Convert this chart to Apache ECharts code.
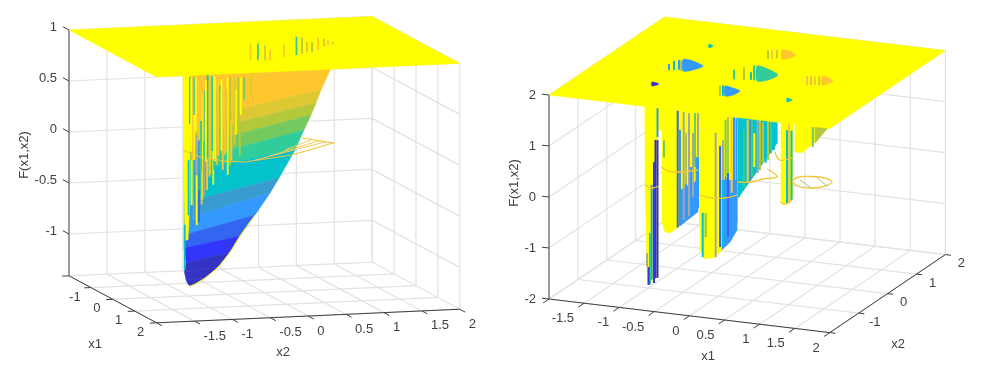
<!DOCTYPE html>
<html>
<head>
<meta charset="utf-8">
<style>
  html, body { margin: 0; background: #fff; }
  #chart { width: 992px; height: 366px; }
</style>
<script src="https://cdn.jsdelivr.net/npm/echarts@6/dist/echarts.min.js"></script>
</head>
<body>
<div id="chart"></div>
<script>
// colour levels of the surfaces, low to high; 11 is the clipped top, 12 the grey mixed streaks
const levelColors = ["#3333c4", "#3136fa", "#3366f0", "#3399ff", "#3a9bd0", "#04c2cc", "#30cc99",
  "#74c95f", "#b4c83c", "#dcc832", "#ffc72e", "#ffff00", "#a3a8a3"];

// left plot: axis ticks
const leftX1Ticks = [-1, 0, 1, 2];
const leftX2Ticks = [-1.5, -1, -0.5, 0, 0.5, 1, 1.5, 2];
const leftZTicks = [-1, -0.5, 0, 0.5, 1];
const leftZMin = -1.41;
const leftZMax = 1;

// left plot: colour bands of the surface, read along the slice x1 = 0
const leftRowX2L = [-1.06, -1.06, -1.06, -1.06, -1.06, -1.06, -1.06, -1.06, -1.06, -1.06, -1.034, -1.054, -1.034, -1.008, -0.982];
const leftRowFL = [0.8, 0.297, 0.16, 0.042, -0.095, -0.193, -0.497, -0.654, -0.811, -0.938, -1.086, -1.174, -1.252, -1.293, -1.313];
const leftRowX2R = [0.892, 0.747, 0.681, 0.615, 0.522, 0.404, 0.193, 0.074, -0.124, -0.322, -0.454, -0.612, -0.784, -0.916, -0.982];
const leftRowFR = [0.781, 0.551, 0.425, 0.31, 0.166, -0.026, -0.294, -0.437, -0.646, -0.845, -0.998, -1.14, -1.241, -1.296, -1.313];
const leftRowLevel = [10, 9, 8, 7, 6, 5, 4, 3, 2, 1, 0, 0, 0, 0];

// left plot: clipped wall beside the surface (same slice)
const leftWallX2 = [-1.074, -0.982, -0.982, -1.008, -1.047, -1.061];
const leftWallF = [0.807, 0.804, -0.47, -0.862, -0.86, -0.37];

// left plot: vertical streaks of the wall (x2, top, bottom, colour level)
const leftStreakX2 = [-0.982, -0.951, -0.925, -0.925, -0.88, -0.893, -0.85, -0.863, -0.819, -0.793, -0.748, -0.708, -0.674,
  -0.629, -0.586, -0.55, -0.52, -0.484, -0.454, -0.418, -0.375, -0.344, -0.309, -0.265, -0.234, -0.177,
  -1, -0.959, -0.925, -0.893, -0.863, -0.827, -0.793, -0.757, -0.714, -0.665, -1.051,
  -0.966, -0.906, -0.836, -0.806, -0.772, -0.727, -0.69, -0.65, -0.607, -0.567, -0.5, -0.435, -0.395, -0.325];
const leftStreakTop = [0.735, 0.73, 0.73, 0.36, 0.73, 0.16, 0.73, 0.11, 0.55, 0.6, 0.75, 0.73, 0.73,
  0.6, 0.64, 0.72, 0.72, 0.72, 0.72, 0.72, 0.59, 0.71, 0.71, 0.71, 0.71, 0.71,
  -0.08, -0.08, -0.08, -0.23, -0.38, -0.08, -0.08, -0.08, -0.09, -0.09, -0.71,
  0.73, 0.73, 0.3, 0.73, 0.7, 0.7, 0.73, 0.73, 0.6, 0.7, 0.6, 0.3, 0.72, 0.2];
const leftStreakBottom = [0.275, -0.08, 0.36, -0.67, 0.02, -0.23, -0.18, -0.38, -0.47, -0.38, -0.23, -0.09, -0.33,
  -0.14, -0.04, -0.19, -0.04, -0.24, -0.15, 0.25, 0.15, 0.19, 0.34, 0.49, 0.39, 0.53,
  -0.62, -0.52, -0.72, -0.72, -0.69, -0.52, -0.43, -0.38, -0.23, -0.19, -1.15,
  0, 0.2, -0.2, 0.1, -0.1, -0.25, 0, -0.1, -0.05, 0, 0, -0.1, 0.05, -0.05];
const leftStreakLevel = [5, 10, 6, 11, 10, 12, 10, 4, 11, 6, 5, 10, 11, 9, 6, 10, 10, 11, 8, 10, 11, 8, 11, 7, 10, 9,
  5, 11, 4, 11, 2, 9, 12, 10, 9, 6, 5,
  11, 11, 6, 10, 11, 9, 6, 11, 10, 11, 9, 10, 9, 8];

// left plot: gaps in the clipped plane, read along the slice x1 = -1
const leftGapX2 = [0.106, 0.204, 0.297, 0.363, 0.547, 0.712, 0.785, 0.851, 0.917, 0.996, 1.075, 1.128, 1.194];
const leftGapTop = [0.91, 0.91, 0.89, 0.84, 0.89, 0.96, 0.95, 0.9, 0.9, 0.94, 0.93, 0.91, 0.89];
const leftGapBottom = [0.75, 0.75, 0.74, 0.74, 0.76, 0.78, 0.79, 0.8, 0.8, 0.82, 0.85, 0.86, 0.87];
const leftGapLevel = [10, 6, 9, 10, 10, 6, 8, 9, 8, 10, 9, 10, 9];

// left plot: wire contour at F = -0.1
const leftWireX1 = [-0.986, -0.377, 0.026, 0.175, -0.211, -1.007, -1.509];
const leftWireX2 = [-0.789, -0.741, -0.528, -0.307, 0.421, 1.196, 0.932];
const leftHatchX1A = [0.053, -0.209, -0.627];
const leftHatchX2A = [-0.139, 0.134, 0.452];
const leftHatchX1B = [-1.114, -1.217, -1.32];
const leftHatchX2B = [1.121, 1.058, 0.995];
const wireLevel = -0.1;

// right plot: axis ticks
const rightX1Ticks = [-1.5, -1, -0.5, 0, 0.5, 1, 1.5, 2];
const rightX2Ticks = [-1, 0, 1, 2];
const rightZTicks = [-2, -1, 0, 1, 2];
const rightZMin = -2;
const rightZMax = 2;

// right plot: clipped walls, outlines read along the slice x2 = -1
const rightWallX1 = [
  [-1.044, -1.044, -1.016, -1.001, -0.873, -0.859],
  [-0.802, -0.802, -0.759, -0.688, -0.588, -0.289, -0.289],
  [-0.261, -0.261, -0.189, -0.047, 0.167, 0.266, 0.266],
  [0.894, 0.894, 0.922, 1.064, 1.064],
  [1.093, 1.093, 1.192, 1.335, 1.562, 1.562],
  [-1.044, 0.266, 0.266, -1.044]
];
const rightWallF = [
  [1.677, 0.05, -1.594, -1.943, -1.765, 1.707],
  [1.72, -0.69, -0.86, -0.87, -0.76, -0.39, 1.8],
  [1.77, -1.14, -1.3, -1.24, -0.91, -0.66, 1.89],
  [2, 0.04, -0.06, 0.1, 2.02],
  [2.03, 1.01, 1.01, 1.19, 1.56, 2.1],
  [1.68, 1.89, 1.3, 1.09]
];

// right plot: solid coloured patches on the walls (same slice)
const rightPatchX1 = [
  [0.281, 0.281, 0.837, 0.837],
  [-0.546, -0.289, -0.289, -0.546],
  [0.053, 0.266, 0.266, 0.167, 0.053],
  [1.378, 1.562, 1.378]
];
const rightPatchF = [
  [1.9, -0.03, 1.14, 1.99],
  [-0.01, 0.23, -0.39, -0.71],
  [0.29, 0.32, -0.66, -0.91, -1.08],
  [1.55, 1.56, 1.23]
];
const rightPatchLevel = [5, 3, 3, 8];

// right plot: vertical streaks on the walls (x1, top, bottom, colour level)
const rightStreakX1 = [-0.866, -0.895, -0.866, -0.916, -0.949, -0.973, -0.994, -1.015,
  -0.774, -0.578, -0.546, -0.493, -0.46, -0.46, -0.417, -0.389, -0.36, -0.332, -0.31, -0.289, -0.289,
  -0.222, -0.18, -0.037, 0.024, 0.067, 0.067, 0.105, 0.105, 0.138, 0.138, 0.191, 0.191, 0.224, 0.259,
  0.295, 0.333, 0.366, 0.419, 0.452, 0.48, 0.513, 0.561, 0.594, 0.637, 0.675, 0.708, 0.751, 0.793, 0.829,
  1.007, 0.979, 1.043, 1.346];
const rightStreakTop = [1.55, 0.92, 0.92, 0.48, 0.03, -0.92, -1.59, -1.32,
  0.93, 1.55, 1.17, 1.53, 0.14, 1.13, 1.52, 0.47, 1.14, 1.54, 0.68, 0.68, 1.56,
  -0.4, -0.4, 1.2, 0.95, 0.29, 1.07, 1.47, 0.36, 1.54, 0.44, 1.55, 0.06, 1.55, 1.55,
  1.54, 1.18, 1.32, 1.53, 1.53, 1.54, 1.28, 1.55, 1.55, 1.52, 1.57, 1.57, 1.58, 1.59, 1.6,
  1.56, 1.42, 1.42, 1.54];
const rightStreakBottom = [0.98, -1.79, -1.78, -1.89, -1.83, -1.93, -1.94, -1.59,
  0.6, -0.75, -0.71, -0.58, -0.52, 0.14, -0.5, -0.43, -0.11, 0.48, -0.36, -0.32, 0.68,
  -1.27, -0.87, -1.24, -1.03, -1.02, 0.29, 0.36, -0.88, 0.44, -0.81, 0.06, -0.73, -0.66, -0.52,
  0, 0.14, 0.2, 0.29, 0.35, 0.42, 0.62, 0.51, 0.57, 0.72, 0.73, 0.79, 0.93, 1, 1.14,
  0, -0.01, 0.06, 1.15];
const rightStreakLevel = [4, 0, 0, 1, 4, 6, 0, 12,
  7, 2, 4, 12, 3, 8, 12, 3, 12, 7, 3, 3, 12,
  5, 7, 12, 2, 5, 12, 7, 3, 8, 2, 10, 3, 3, 3,
  5, 5, 6, 10, 4, 6, 11, 12, 8, 8, 5, 8, 6, 5, 5,
  10, 5, 5, 7];

// right plot: holes in the clipped plane at F = 2
const rightHoleX1 = [
  [-1.015, -0.868, -0.657, -0.706, -0.809],
  [-0.003, 0.184, 0.412, 0.381, 0.265],
  [-0.032, 0.101, 0.239, 0.226, 0.147],
  [0.012, 0.127, 0.271, 0.253, 0.174],
  [0.962, 1.083, 1.185, 1.178, 1.124],
  [-0.987, -0.866, -0.915],
  [-0.979, -0.894, -0.907],
  [0.933, 1.03, 1.005]
];
const rightHoleX2 = [
  [0.245, 0.232, 0.066, -0.16, -0.256],
  [0.347, 0.274, 0.065, -0.205, -0.306],
  [-0.691, -0.736, -0.83, -1.041, -1.126],
  [1.174, 1.172, 1.03, 0.867, 0.782],
  [0.25, 0.2, 0.09, -0.067, -0.142],
  [-0.897, -0.948, -1.071],
  [1.055, 0.989, 0.881],
  [-0.891, -0.951, -1.064]
];
const rightHoleLevel = [3, 6, 3, 10, 10, 0, 5, 5];

// right plot: streaks beside the holes, read along the slice x2 = 1
const rightGapX1 = [-1.526, -1.454, -1.383, -1.354, -0.6, -0.457, -0.358, -0.315, -0.8, -0.756, -0.115, -0.058, 0.013, 0.44, 0.497, 0.554, 0.611];
const rightGapTop = [1.54, 1.61, 1.64, 1.64, 1.58, 1.65, 1.57, 1.71, 1.23, 1.25, 2.04, 2.05, 2.07, 1.63, 1.63, 1.64, 1.65];
const rightGapBottom = [1.42, 1.43, 1.45, 1.43, 1.39, 1.4, 1.42, 1.42, 1.03, 1.04, 1.87, 1.88, 1.9, 1.45, 1.46, 1.47, 1.47];
const rightGapLevel = [3, 5, 3, 8, 6, 8, 5, 6, 8, 5, 8, 10, 9, 10, 9, 10, 9];

// right plot: wire contours at F = 0
const rightWireX1 = [
  [-1.054, -0.915, -0.866],
  [-1.183, -1.026, -0.888, -0.681],
  [-0.209, -0.01, 0.147, 0.239],
  [0.018, 0.187, 0.267, 0.4, 0.25, 0.136],
  [-0.073, 0.132, 0.235],
  [0.885, 0.993, 0.994],
  [0.671, 0.651, 0.814, 0.999, 1.155, 1.142, 1.021, 0.858, 0.671]
];
const rightWireX2 = [
  [-0.977, -1.071, -0.948],
  [-0.109, -0.247, -0.238, -0.047],
  [-1.126, -1.194, -1.126, -0.933],
  [-0.361, -0.289, -0.1, 0.059, 0.251, 0.356],
  [1.138, 0.815, 1.014],
  [-1.014, -1.07, -0.865],
  [-0.08, 0.142, 0.263, 0.266, 0.128, -0.083, -0.237, -0.256, -0.08]
];
const rightHatchX1A = [0.732, 0.902];
const rightHatchX2A = [0.048, 0.224];
const rightHatchX1B = [0.979, 1.166];
const rightHatchX2B = [-0.204, -0.072];

// view of each 3d box, pixel offsets per data unit
const leftView = { ox: 69, oy: 132, x1: [21.9, 11.75], x2: [75.8, -3.4], z: 102 };
const rightView = { ox: 549, oy: 197, x1: [70.2, 8.4], x2: [28.9, -19.5], z: 51 };

function project(v, x1, x2, f) {
  const a = x1 + 2;
  const b = x2 + 2;
  return [v.ox + v.x1[0] * a + v.x2[0] * b, v.oy - v.z * f + v.x1[1] * a + v.x2[1] * b];
}

// every group of marks is one custom series, series order is paint order
function shapeSeries(name, shapes) {
  return {
    type: "custom",
    name,
    coordinateSystem: "cartesian2d",
    silent: true,
    clip: false,
    animation: false,
    progressive: 0,
    data: shapes.map((_, i) => [0, 0, i]),
    renderItem: (params, api) => {
      const s = shapes[params.dataIndex];
      const points = s.pts.map((p) => api.coord(p));
      if (s.fill) {
        return { type: "polygon", shape: { points, smooth: s.smooth || 0 }, style: { fill: s.fill, stroke: s.fill, lineWidth: 0.5 } };
      }
      return { type: "polyline", shape: { points, smooth: s.smooth || 0 }, style: { fill: null, stroke: s.stroke, lineWidth: s.width || 1 } };
    },
  };
}

function textSeries(name, labels) {
  return {
    type: "custom",
    name,
    coordinateSystem: "cartesian2d",
    silent: true,
    clip: false,
    animation: false,
    data: labels.map((_, i) => [0, 0, i]),
    renderItem: (params, api) => {
      const t = labels[params.dataIndex];
      const p = api.coord(t.at);
      return {
        type: "text",
        x: p[0],
        y: p[1],
        rotation: t.rot || 0,
        style: {
          text: t.text,
          fill: "#404040",
          font: '13px "Liberation Sans", Arial, sans-serif',
          align: t.align || "center",
          verticalAlign: "middle",
        },
      };
    },
  };
}

// walls, floor, axes, ticks and tick labels of one box
function boxSeries(id, v, zMin, zMax, x1Grid, x2Grid, zGrid, x1Ticks, x2Ticks, zTicks, tickLen, names) {
  const grid = [];
  const lines = (pts) => grid.push({ pts, stroke: "#e2e2e2", width: 1.2 });
  zGrid.forEach((z) => lines([project(v, -2, -2, z), project(v, -2, 2, z), project(v, 2, 2, z)]));
  x2Grid.forEach((x2) => {
    lines([project(v, -2, x2, zMax), project(v, -2, x2, zMin), project(v, 2, x2, zMin)]);
  });
  x1Grid.forEach((x1) => {
    lines([project(v, x1, 2, zMax), project(v, x1, 2, zMin), project(v, x1, -2, zMin)]);
  });

  const axes = [
    { pts: [project(v, -2, -2, zMax), project(v, -2, -2, zMin)], stroke: "#606060", width: 1.2 },
    { pts: [project(v, -2, -2, zMin), project(v, 2, -2, zMin)], stroke: "#404040", width: 1 },
    { pts: [project(v, 2, -2, zMin), project(v, 2, 2, zMin)], stroke: "#404040", width: 1 },
  ];
  const labels = [];
  const add = (at, dx, dy, text, align) => labels.push({ at: [at[0] + dx, at[1] + dy], text, align });
  zGrid.forEach((z) => {
    axes.push({ pts: [project(v, -2, -2, z), project(v, -2 - tickLen.z, -2, z)], stroke: "#404040", width: 1 });
  });
  zTicks.forEach((z) => add(project(v, -2, -2, z), names.zLabel[0], names.zLabel[1], String(z), "right"));
  x1Grid.forEach((x1) => {
    axes.push({ pts: [project(v, x1, -2, zMin), project(v, x1, -2 - tickLen.x1, zMin)], stroke: "#404040", width: 1 });
  });
  x1Ticks.forEach((x1) => {
    add(project(v, x1, -2, zMin), names.x1Label[0], names.x1Label[1], String(x1), names.x1Label[2]);
  });
  x2Grid.forEach((x2) => {
    axes.push({ pts: [project(v, 2, x2, zMin), project(v, 2 + tickLen.x2, x2, zMin)], stroke: "#404040", width: 1 });
  });
  x2Ticks.forEach((x2) => {
    add(project(v, 2, x2, zMin), names.x2Label[0], names.x2Label[1], String(x2), names.x2Label[2]);
  });
  names.titles.forEach((t) => labels.push(t));
  return {
    grid: shapeSeries(id + " grid", grid),
    axes: shapeSeries(id + " axes", axes),
    labels: textSeries(id + " labels", labels),
  };
}

function planeShape(v, zMax) {
  return { pts: [project(v, -2, -2, zMax), project(v, 2, -2, zMax), project(v, 2, 2, zMax), project(v, -2, 2, zMax)], fill: levelColors[11] };
}

const leftBox = boxSeries("left", leftView, leftZMin, leftZMax,
  [-2, -1, 0, 1, 2], [-2, -1.5, -1, -0.5, 0, 0.5, 1, 1.5, 2], leftZTicks,
  leftX1Ticks, leftX2Ticks, leftZTicks, { z: 0.28, x1: 0.09, x2: 0.25 },
  {
    zLabel: [-12, -3], x1Label: [-16, 9.5, "center"], x2Label: [9, 15, "left"],
    titles: [
      { at: [24, 155], text: "F(x1,x2)", rot: Math.PI / 2 },
      { at: [95, 344], text: "x1" },
      { at: [283, 352], text: "x2" },
    ],
  });

const rightBox = boxSeries("right", rightView, rightZMin, rightZMax,
  [-2, -1.5, -1, -0.5, 0, 0.5, 1, 1.5, 2], [-2, -1, 0, 1, 2], rightZTicks,
  rightX1Ticks, rightX2Ticks, rightZTicks, { z: 0.1, x1: 0.2, x2: 0.08 },
  {
    zLabel: [-13, 0.5], x1Label: [-10, 15.5, "right"], x2Label: [16, 9, "center"],
    titles: [
      { at: [514, 183], text: "F(x1,x2)", rot: Math.PI / 2 },
      { at: [708, 356], text: "x1" },
      { at: [898, 344], text: "x2" },
    ],
  });

// left surface: quads between the band rows
const leftSurface = leftRowLevel.map((lvl, i) => ({
  pts: [
    project(leftView, 0, leftRowX2L[i], leftRowFL[i]),
    project(leftView, 0, leftRowX2R[i], leftRowFR[i]),
    project(leftView, 0, leftRowX2R[i + 1], leftRowFR[i + 1]),
    project(leftView, 0, leftRowX2L[i + 1], leftRowFL[i + 1]),
  ],
  fill: levelColors[lvl],
}));
leftSurface.push({ pts: leftWallX2.map((x2, i) => project(leftView, 0, x2, leftWallF[i])), fill: levelColors[11] });
const leftStreaks = leftStreakX2.map((x2, i) => ({
  pts: [project(leftView, 0, x2, leftStreakTop[i]), project(leftView, 0, x2, leftStreakBottom[i])],
  stroke: levelColors[leftStreakLevel[i]],
  width: 1.8,
}));
// thin yellow fringe on the lower right edge
leftStreaks.push({
  pts: leftRowX2R.slice(8).map((x2, i) => project(leftView, 0, x2, leftRowFR[i + 8])),
  stroke: levelColors[11],
  width: 1,
  smooth: 0.3,
});

const leftWire = [{
  pts: leftWireX1.map((x1, i) => project(leftView, x1, leftWireX2[i], wireLevel)),
  stroke: "#f2c53a",
  width: 1.2,
}];
leftHatchX1A.forEach((x1, i) => leftWire.push({
  pts: [project(leftView, x1, leftHatchX2A[i], wireLevel), project(leftView, leftHatchX1B[i], leftHatchX2B[i], wireLevel)],
  stroke: "#f5cb5a",
  width: 1,
}));

const leftGaps = leftGapX2.map((x2, i) => ({
  pts: [project(leftView, -1, x2, leftGapTop[i]), project(leftView, -1, x2, leftGapBottom[i])],
  stroke: levelColors[leftGapLevel[i]],
  width: 1.8,
}));

// right surface
const rightWalls = rightWallX1.map((xs, k) => ({
  pts: xs.map((x1, i) => project(rightView, x1, -1, rightWallF[k][i])),
  fill: levelColors[11],
}));
rightPatchX1.forEach((xs, k) => rightWalls.push({
  pts: xs.map((x1, i) => project(rightView, x1, -1, rightPatchF[k][i])),
  fill: levelColors[rightPatchLevel[k]],
}));
const rightStreaks = rightStreakX1.map((x1, i) => ({
  pts: [project(rightView, x1, -1, rightStreakTop[i]), project(rightView, x1, -1, rightStreakBottom[i])],
  stroke: levelColors[rightStreakLevel[i]],
  width: 2,
}));
const rightWire = rightWireX1.map((xs, k) => ({
  pts: xs.map((x1, i) => project(rightView, x1, rightWireX2[k][i], 0)),
  stroke: "#f5c434",
  width: 1.3,
  smooth: 0.4,
}));
rightHatchX1A.forEach((x1, i) => rightWire.push({
  pts: [project(rightView, x1, rightHatchX2A[i], 0), project(rightView, rightHatchX1B[i], rightHatchX2B[i], 0)],
  stroke: "#a9c763",
  width: 1,
}));
const rightHoles = rightHoleX1.map((xs, k) => ({
  pts: xs.map((x1, i) => project(rightView, x1, rightHoleX2[k][i], rightZMax)),
  fill: levelColors[rightHoleLevel[k]],
  smooth: 0.25,
}));
const rightGaps = rightGapX1.map((x1, i) => ({
  pts: [project(rightView, x1, 1, rightGapTop[i]), project(rightView, x1, 1, rightGapBottom[i])],
  stroke: levelColors[rightGapLevel[i]],
  width: 2,
}));

const chart = echarts.init(document.getElementById("chart"), null, { renderer: "canvas" });
chart.setOption({
  animation: false,
  backgroundColor: "#ffffff",
  grid: { left: 0, right: 0, top: 0, bottom: 0 },
  xAxis: { type: "value", min: 0, max: 992, show: false },
  yAxis: { type: "value", min: 0, max: 366, inverse: true, show: false },
  series: [
    leftBox.grid,
    leftBox.axes,
    shapeSeries("left surface", leftSurface),
    shapeSeries("left streaks", leftStreaks),
    shapeSeries("left wire", leftWire),
    shapeSeries("left plane", [planeShape(leftView, leftZMax)]),
    shapeSeries("left gaps", leftGaps),
    leftBox.labels,
    rightBox.grid,
    rightBox.axes,
    shapeSeries("right walls", rightWalls),
    shapeSeries("right streaks", rightStreaks),
    shapeSeries("right wire", rightWire),
    shapeSeries("right plane", [planeShape(rightView, rightZMax)]),
    shapeSeries("right holes", rightHoles),
    shapeSeries("right gaps", rightGaps),
    rightBox.labels,
  ],
});
</script>
</body>
</html>
